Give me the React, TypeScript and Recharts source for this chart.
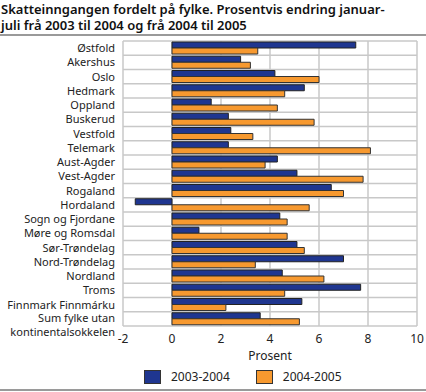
import React from 'react';
import { BarChart, Bar, XAxis, YAxis, CartesianGrid, Legend } from 'recharts';

const categories = [
  'Østfold', 'Akershus', 'Oslo', 'Hedmark', 'Oppland', 'Buskerud', 'Vestfold', 'Telemark',
  'Aust-Agder', 'Vest-Agder', 'Rogaland', 'Hordaland', 'Sogn og Fjordane', 'Møre og Romsdal',
  'Sør-Trøndelag', 'Nord-Trøndelag', 'Nordland', 'Troms', 'Finnmark Finnmárku',
  'Sum fylke utan\nkontinentalsokkelen',
];
const series2003_2004 = [7.5, 2.8, 4.2, 5.4, 1.6, 2.3, 2.4, 2.3, 4.3, 5.1, 6.5, -1.5, 4.4, 1.1, 5.1, 7.0, 4.5, 7.7, 5.3, 3.6];
const series2004_2005 = [3.5, 3.2, 6.0, 4.6, 4.3, 5.8, 3.3, 8.1, 3.8, 7.8, 7.0, 5.6, 4.7, 4.7, 5.4, 3.4, 6.2, 4.6, 2.2, 5.2];
const xTicks = [-2, 0, 2, 4, 6, 8, 10];
const seriesNames = ['2003-2004', '2004-2005'];

const BLUE = '#1f3690';
const ORANGE = '#f7992f';
const GRID = '#c8c8c8';
const FONT = '"Noto Sans", "Open Sans", sans-serif';

const W = 426;
const H = 392;
const MARGIN = { top: 41, right: 9, bottom: 32, left: 0 };
const Y_AXIS_W = 123;
const X_AXIS_H = 34;
const PLOT_LEFT = MARGIN.left + Y_AXIS_W;
const PLOT_TOP = MARGIN.top;
const PLOT_W = W - MARGIN.left - MARGIN.right - Y_AXIS_W;
const PLOT_H = H - MARGIN.top - MARGIN.bottom - X_AXIS_H;

const data = categories.map((name, i) => ({
  name,
  a: series2003_2004[i],
  b: series2004_2005[i],
}));

const verticalPoints = xTicks.map(
  (t) => PLOT_LEFT + ((t - xTicks[0]) / (xTicks[xTicks.length - 1] - xTicks[0])) * PLOT_W
);
const horizontalPoints = Array.from(
  { length: categories.length + 1 },
  (_, k) => PLOT_TOP + (k * PLOT_H) / categories.length
);

const YTick = (props: any) => {
  const { x, y, payload } = props;
  const lines = String(payload.value).split('\n');
  const start = lines.length > 1 ? -1 : 0;
  return (
    <text x={x} y={y} textAnchor="end" fontSize={11} fill="#222" fontFamily={FONT}>
      {lines.map((l, i) => (
        <tspan key={i} x={x} dy={i === 0 ? start + 4 : 14}>{l}</tspan>
      ))}
    </text>
  );
};

const LegendContent = () => (
  <div style={{ display: 'flex', fontFamily: FONT, fontSize: 12, color: '#222' }}>
    {[BLUE, ORANGE].map((c, i) => (
      <div key={i} style={{ display: 'flex', alignItems: 'center', marginRight: 26 }}>
        <div style={{ width: 15, height: 12, background: c, border: '1px solid #333', marginRight: 10 }} />
        <span>{seriesNames[i]}</span>
      </div>
    ))}
  </div>
);

export default function App() {
  return (
    <div style={{ position: 'absolute', left: 0, top: 0, width: W, height: H }}>
      <BarChart
        width={W}
        height={H}
        data={data}
        layout="vertical"
        margin={MARGIN}
        barSize={6}
        barGap={0}
      >
        <CartesianGrid
          stroke={GRID}
          strokeWidth={1.5}
          verticalPoints={verticalPoints}
          horizontalPoints={horizontalPoints}
        />
        <XAxis
          type="number"
          domain={[-2, 10]}
          ticks={xTicks}
          axisLine={false}
          tickLine={false}
          height={X_AXIS_H}
          tick={{ fontSize: 12, fill: '#222', fontFamily: FONT }}
          label={{ value: 'Prosent', position: 'insideBottom', offset: 0, fontSize: 12, fill: '#222', fontFamily: FONT }}
        />
        <YAxis
          type="category"
          dataKey="name"
          width={Y_AXIS_W}
          axisLine={false}
          tickLine={false}
          interval={0}
          tick={<YTick />}
        />
        <Legend
          layout="horizontal"
          verticalAlign="middle"
          align="center"
          wrapperStyle={{ top: 368, left: 144, width: 280 }}
          content={<LegendContent />}
        />
        <Bar dataKey="a" name={seriesNames[0]} fill={BLUE} stroke="#222" strokeWidth={1} isAnimationActive={false} />
        <Bar dataKey="b" name={seriesNames[1]} fill={ORANGE} stroke="#333" strokeWidth={1} isAnimationActive={false} />
      </BarChart>
      <div style={{ position: 'absolute', left: 1, top: 1, fontFamily: FONT, fontWeight: 600, fontSize: 13, lineHeight: '16px', color: '#111', width: 420 }}>
        Skatteinngangen fordelt på fylke. Prosentvis endring januar-<br />juli frå 2003 til 2004 og frå 2004 til 2005
      </div>
      <div style={{ position: 'absolute', left: 0, top: 34, width: W, height: 2, background: '#9a9a9a' }} />
      <div style={{ position: 'absolute', left: 0, top: 389, width: W, height: 2, background: '#9a9a9a' }} />
    </div>
  );
}
